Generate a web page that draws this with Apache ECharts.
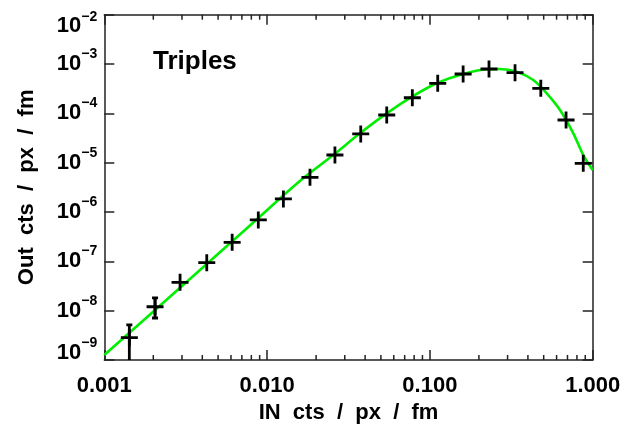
<!DOCTYPE html>
<html><head><meta charset="utf-8">
<script src="https://cdn.jsdelivr.net/npm/echarts@6/dist/echarts.min.js"></script>
<style>html,body{margin:0;padding:0;background:#fff}#c{width:626px;height:425px}</style>
</head><body><div id="c"></div>
<script>
const FONT = '"Liberation Sans", Arial, Helvetica, sans-serif';

// measured data points (IN cts/px/fm vs Out cts/px/fm)
const inX  = [0.001425, 0.00205, 0.00292, 0.00426, 0.0061, 0.00883, 0.01259, 0.01834, 0.0261, 0.0376, 0.0543, 0.078, 0.1117, 0.160, 0.2307, 0.3334, 0.48, 0.686, 0.875];
const outY = [2.83e-9, 1.2e-8, 3.76e-8, 9.4e-8, 2.43e-7, 6.9e-7, 1.84e-6, 5.06e-6, 1.43e-5, 3.82e-5, 9.27e-5, 2.07e-4, 4.07e-4, 6.28e-4, 7.93e-4, 6.67e-4, 3.22e-4, 7.33e-5, 9.72e-6];

// visible error bars
const errX    = [0.001425, 0.00205];
const errLow  = [5e-10, 7.1e-9];
const errHigh = [5.13e-9, 1.81e-8];

// fitted curve (green)
const fitX = [0.001, 0.00191, 0.00387, 0.00785, 0.0159, 0.0255, 0.0372, 0.0543, 0.0791, 0.110, 0.160, 0.2234, 0.2695, 0.341, 0.4315, 0.522, 0.630, 0.760, 0.875, 1.0];
const fitY = [1.26e-9, 8.4e-9, 6.68e-8, 5.33e-7, 4.26e-6, 1.43e-5, 3.94e-5, 1.0e-4, 2.25e-4, 4.07e-4, 6.28e-4, 7.82e-4, 7.93e-4, 6.99e-4, 4.74e-4, 2.55e-4, 1.17e-4, 3.94e-5, 1.43e-5, 7.1e-6];

// tick labels
const xTickLabels = ['0.001', '0.010', '0.100', '1.000'];
const yTickExp = ['\u22129', '\u22128', '\u22127', '\u22126', '\u22125', '\u22124', '\u22123', '\u22122'];

const X_MIN = 0.001, X_MAX = 1, Y_MIN = 1e-9, Y_MAX = 1e-2;

// minor tick values on x (2..9 per decade)
const minorX = [];
for (let d = -3; d < 0; d++) for (let k = 2; k <= 9; k++) minorX.push([k * Math.pow(10, d), Y_MIN]);

const AX = '#222';
const chart = echarts.init(document.getElementById('c'), null, {renderer: 'canvas'});

function xAxisBase(pos, showLabel) {
  return {
    type: 'log', logBase: 10, min: X_MIN, max: X_MAX, position: pos,
    interval: 1, splitNumber: 3,
    axisLine: {show: true, onZero: false, lineStyle: {color: AX, width: 1.5}},
    axisTick: {show: true, inside: true, length: 10, lineStyle: {color: AX, width: 1.5}},
    splitLine: {show: false},
    minorTick: {show: false},
    axisLabel: {
      show: showLabel, margin: 15, color: '#000', fontFamily: FONT, fontSize: 22, fontWeight: 'bold',
      formatter: v => xTickLabels[Math.round(Math.log10(v)) + 3]
    }
  };
}
function yAxisBase(pos, showLabel) {
  const base = {fontFamily: FONT, color: '#000', fontWeight: 'bold'};
  return {
    type: 'log', logBase: 10, min: Y_MIN, max: Y_MAX, position: pos,
    interval: 1, splitNumber: 7,
    axisLine: {show: true, onZero: false, lineStyle: {color: AX, width: 1.5}},
    axisTick: {show: true, inside: true, length: 10, lineStyle: {color: AX, width: 1.5}},
    splitLine: {show: false},
    axisLabel: {
      show: showLabel, margin: 7, color: '#000', fontFamily: FONT,
      formatter: v => {
        const e = Math.round(Math.log10(v));
        const s = yTickExp[e + 9];
        if (e === -9) return '{aMin|10}{sMin|' + s + '}';
        if (e === -2) return '{aMax|10}{sMax|' + s + '}';
        return '{a|10}{s|' + s + '}';
      },
      rich: {
        a:    Object.assign({fontSize: 22, lineHeight: 22}, base),
        s:    Object.assign({fontSize: 14, lineHeight: 14, padding: [0, 0, 20, 0]}, base),
        aMin: Object.assign({fontSize: 22, lineHeight: 22, padding: [0, 0, 14, 0]}, base),
        sMin: Object.assign({fontSize: 14, lineHeight: 14, padding: [0, 0, 34, 0]}, base),
        aMax: Object.assign({fontSize: 22, lineHeight: 22, padding: [23, 0, 0, 0]}, base),
        sMax: Object.assign({fontSize: 14, lineHeight: 14, padding: [4, 0, 0, 0]}, base)
      }
    }
  };
}

const xBottom = Object.assign(xAxisBase('bottom', true), {
  name: 'IN  cts  /  px  /  fm', nameLocation: 'middle', nameGap: 40,
  nameTextStyle: {fontFamily: FONT, fontSize: 22, fontWeight: 'bold', color: '#000'}
});
const yLeft = Object.assign(yAxisBase('left', true), {
  name: 'Out  cts  /  px  /  fm', nameLocation: 'middle', nameGap: 66,
  nameTextStyle: {fontFamily: FONT, fontSize: 22, fontWeight: 'bold', color: '#000'}
});

const option = {
  animation: false,
  backgroundColor: '#fff',
  grid: {left: 104.3, right: 33.3, top: 14.7, bottom: 65, containLabel: false, outerBoundsMode: 'none'},
  xAxis: [xBottom, xAxisBase('top', false)],
  yAxis: [yLeft, yAxisBase('right', false)],
  graphic: [{
    type: 'text', left: 153, top: 49,
    style: {text: 'Triples', font: 'bold 26px ' + FONT, fill: '#000'}
  }],
  series: [
    {
      type: 'custom', name: 'minorTicks', xAxisIndex: 0, yAxisIndex: 0, silent: true,
      data: minorX, z: 3,
      renderItem: (params, api) => {
        const b = api.coord([api.value(0), Y_MIN]);
        const t = api.coord([api.value(0), Y_MAX]);
        const st = {stroke: AX, lineWidth: 1.5};
        return {type: 'group', children: [
          {type: 'line', shape: {x1: b[0], y1: b[1], x2: b[0], y2: b[1] - 5}, style: st},
          {type: 'line', shape: {x1: t[0], y1: t[1], x2: t[0], y2: t[1] + 5}, style: st}
        ]};
      }
    },
    {
      type: 'line', name: 'fit', xAxisIndex: 0, yAxisIndex: 0,
      data: fitX.map((x, i) => [x, fitY[i]]),
      showSymbol: false, smooth: 0.3, clip: true, z: 4,
      lineStyle: {color: '#00ee00', width: 2.6}
    },
    {
      type: 'custom', name: 'errors', xAxisIndex: 0, yAxisIndex: 0, clip: true, z: 5,
      data: errX.map((x, i) => [x, errLow[i], errHigh[i]]),
      renderItem: (params, api) => {
        const lo = api.coord([api.value(0), api.value(1)]);
        const hi = api.coord([api.value(0), api.value(2)]);
        const st = {stroke: '#000', lineWidth: 2.8};
        return {type: 'group', children: [
          {type: 'line', shape: {x1: lo[0], y1: lo[1], x2: hi[0], y2: hi[1]}, style: st},
          {type: 'line', shape: {x1: hi[0] - 3, y1: hi[1], x2: hi[0] + 3, y2: hi[1]}, style: st},
          {type: 'line', shape: {x1: lo[0] - 3, y1: lo[1], x2: lo[0] + 3, y2: lo[1]}, style: st}
        ]};
      }
    },
    {
      type: 'custom', name: 'points', xAxisIndex: 0, yAxisIndex: 0, clip: true, z: 6,
      data: inX.map((x, i) => [x, outY[i]]),
      renderItem: (params, api) => {
        const c = api.coord([api.value(0), api.value(1)]);
        const h = 8.5;
        const st = {stroke: '#000', lineWidth: 2.8};
        return {type: 'group', children: [
          {type: 'line', shape: {x1: c[0] - h, y1: c[1], x2: c[0] + h, y2: c[1]}, style: st},
          {type: 'line', shape: {x1: c[0], y1: c[1] - h, x2: c[0], y2: c[1] + h}, style: st}
        ]};
      }
    }
  ]
};
chart.setOption(option);
</script>
</body></html>
